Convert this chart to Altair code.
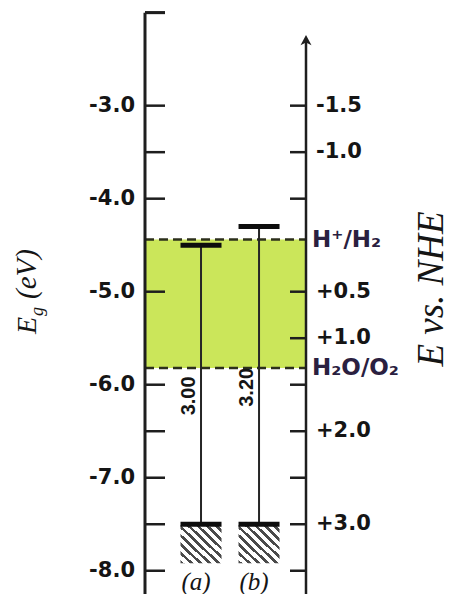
import altair as alt
import pandas as pd

# ---------------- data ----------------
left_tick_values = [-2.0, -3.0, -3.5, -4.0, -5.0, -6.0, -6.5, -7.0, -7.5, -8.0]
left_label_values = [-3.0, -4.0, -5.0, -6.0, -7.0, -8.0]

nhe_ticks = [-1.5, -1.0, -0.5, 0.5, 1.0, 1.5, 2.0, 2.5, 3.0, 3.5]
nhe_labels = ["-1.5", "-1.0", "", "+0.5", "+1.0", "", "+2.0", "", "+3.0", ""]
nhe_zero_vs_vacuum = -4.5          # E(vacuum) = -4.5 - E(NHE)

couples = ["H\u207a/H\u2082", "H\u2082O/O\u2082"]
couple_levels = [-4.44, -5.82]

samples = ["(a)", "(b)"]
cb = [-4.5, -4.3]
vb = [-7.5, -7.5]
gaps = ["3.00", "3.20"]

axis_top = -2.0
arrow_level = -2.3
y_domain = [-8.25, -1.95]

# ---------------- layout / style ----------------
W, H = 161, 586
INK = "#151515"
GREEN = "#cbe65a"

yscale = alt.Scale(domain=y_domain, nice=False, zero=False)


def Y(field):
    return alt.Y(field, scale=yscale, axis=None, title=None)


X = alt.X(
    "sample:N",
    scale=alt.Scale(domain=samples, paddingInner=0.293, paddingOuter=0.534, align=0.573),
    axis=None,
)

bands = pd.DataFrame({"sample": samples, "cb": cb, "vb": vb, "gap": gaps})
couples_df = pd.DataFrame({"name": couples, "level": couple_levels})
zone_df = pd.DataFrame({"top": [couple_levels[0]], "bottom": [couple_levels[1]]})
left_ticks_df = pd.DataFrame({"v": left_tick_values})
left_labels_df = pd.DataFrame({"v": left_label_values})
right_df = pd.DataFrame({"nhe": nhe_ticks, "label": nhe_labels})
axis_df = pd.DataFrame({"top": [axis_top], "arrow": [arrow_level]})

zone = alt.Chart(zone_df).mark_rect(color=GREEN).encode(
    y=Y("top:Q"), y2="bottom:Q", x=alt.value(0), x2=alt.value(W)
)

dashes = alt.Chart(couples_df).mark_rule(
    strokeDash=[9, 5], strokeWidth=2.5, color="#2c2f1c"
).encode(y=Y("level:Q"), x=alt.value(0), x2=alt.value(W))

# hatching under the valence bands (striped gradient)
n_stripes = 9
stops = []
for i in range(n_stripes):
    a = i / n_stripes
    b = (i + 0.42) / n_stripes
    c = (i + 1) / n_stripes
    stops += [
        alt.GradientStop(color="#4a4a4a", offset=a),
        alt.GradientStop(color="#4a4a4a", offset=b),
        alt.GradientStop(color="#ffffff", offset=b),
        alt.GradientStop(color="#ffffff", offset=c),
    ]
hatch_fill = alt.LinearGradient(gradient="linear", stops=stops, x1=0, x2=1, y1=1, y2=0)

hatch = alt.Chart(bands).transform_calculate(hb="datum.vb - 0.42").mark_bar(
    fill=hatch_fill
).encode(x=X, y=Y("vb:Q"), y2="hb:Q")

gap_lines = alt.Chart(bands).mark_rule(strokeWidth=2, color="#262626").encode(
    x=X, y=Y("cb:Q"), y2="vb:Q"
)

cb_bars = alt.Chart(bands).mark_tick(size=41, thickness=5, color="#0d0d0d", opacity=1).encode(
    x=X, y=Y("cb:Q")
)
vb_bars = alt.Chart(bands).mark_tick(size=41, thickness=5, color="#0d0d0d", opacity=1).encode(
    x=X, y=Y("vb:Q")
)

gap_text = alt.Chart(bands).transform_calculate(
    ly="datum.vb + 0.46 * (datum.cb - datum.vb)"
).mark_text(
    angle=270, align="center", baseline="bottom", dy=-2,
    font="Liberation Sans", fontWeight="bold", fontSize=20, color=INK,
).encode(x=X, y=Y("ly:Q"), text="gap:N")

sample_text = alt.Chart(bands).mark_text(
    font="Liberation Serif", fontStyle="italic", fontSize=25,
    baseline="alphabetic", dx=-5, color=INK,
).encode(x=X, y=alt.value(H - 4), text="sample:N")

left_line = alt.Chart(axis_df).mark_rule(strokeWidth=3, color="#1e1e1e").encode(
    y=Y("top:Q"), y2=alt.value(H), x=alt.value(0)
)
left_cap = alt.Chart(axis_df).mark_rule(strokeWidth=3, color="#1e1e1e").encode(
    y=Y("top:Q"), x=alt.value(0), x2=alt.value(20)
)
left_ticks = alt.Chart(left_ticks_df).mark_rule(strokeWidth=2.5, color="#1e1e1e").encode(
    y=Y("v:Q"), x=alt.value(0), x2=alt.value(20)
)
left_labels = alt.Chart(left_labels_df).transform_calculate(
    label="'-' + format(-datum.v, '.1f')"
).mark_text(
    align="right", baseline="middle", dx=-10,
    font="DejaVu Sans", fontWeight="bold", fontSize=21, color=INK,
).encode(y=Y("v:Q"), x=alt.value(0), text="label:N")

right_line = alt.Chart(axis_df).mark_rule(strokeWidth=2.5, color="#1e1e1e").encode(
    y=Y("arrow:Q"), y2=alt.value(H), x=alt.value(W)
)
arrow = alt.Chart(axis_df).mark_point(
    shape="M0,-0.5L0.5,0.42L0,0.18L-0.5,0.42Z", filled=True, size=484,
    color="#1e1e1e", opacity=1,
).encode(y=Y("arrow:Q"), x=alt.value(W))

right = alt.Chart(right_df).transform_calculate(
    e=f"{nhe_zero_vs_vacuum} - datum.nhe"
)
right_ticks = right.mark_rule(strokeWidth=2.5, color="#1e1e1e").encode(
    y=Y("e:Q"), x=alt.value(W - 16), x2=alt.value(W)
)
right_labels = right.mark_text(
    align="left", baseline="middle", dx=10,
    font="DejaVu Sans", fontWeight="bold", fontSize=21, color=INK,
).encode(y=Y("e:Q"), x=alt.value(W), text="label:N")

couple_labels = alt.Chart(couples_df).mark_text(
    align="left", baseline="middle", dx=6,
    font="DejaVu Sans", fontWeight="bold", fontSize=23, color="#2a2040",
).encode(y=Y("level:Q"), x=alt.value(W), text="name:N")

# axis titles
title_style = dict(font="Liberation Serif", fontStyle="italic", color=INK, angle=270,
                   baseline="alphabetic", align="left")
t_E = alt.Chart(axis_df).mark_text(fontSize=28, **title_style).encode(
    x=alt.value(-109), y=alt.value(326), text=alt.value("E"))
t_g = alt.Chart(axis_df).mark_text(fontSize=18, **title_style).encode(
    x=alt.value(-102), y=alt.value(308), text=alt.value("g"))
t_eV = alt.Chart(axis_df).mark_text(fontSize=29, **title_style).encode(
    x=alt.value(-109), y=alt.value(291), text=alt.value("(eV)"))
right_title_style = dict(title_style)
right_title_style["align"] = "center"
t_right = alt.Chart(axis_df).mark_text(fontSize=37, **right_title_style).encode(
    x=alt.value(298), y=alt.value(281), text=alt.value("E vs. NHE"))

chart = alt.layer(
    zone, dashes, hatch, gap_lines, cb_bars, vb_bars,
    left_line, left_cap, left_ticks, right_line, arrow, right_ticks,
    gap_text, sample_text, left_labels, right_labels, couple_labels,
    t_E, t_g, t_eV, t_right,
).properties(
    width=W, height=H,
    autosize=alt.AutoSizeParams(type="none"),
    padding={"left": 137, "right": 145, "top": 0, "bottom": 0},
).configure_view(stroke=None)

chart.save("out.html", embed_options={"renderer": "svg", "actions": False})
